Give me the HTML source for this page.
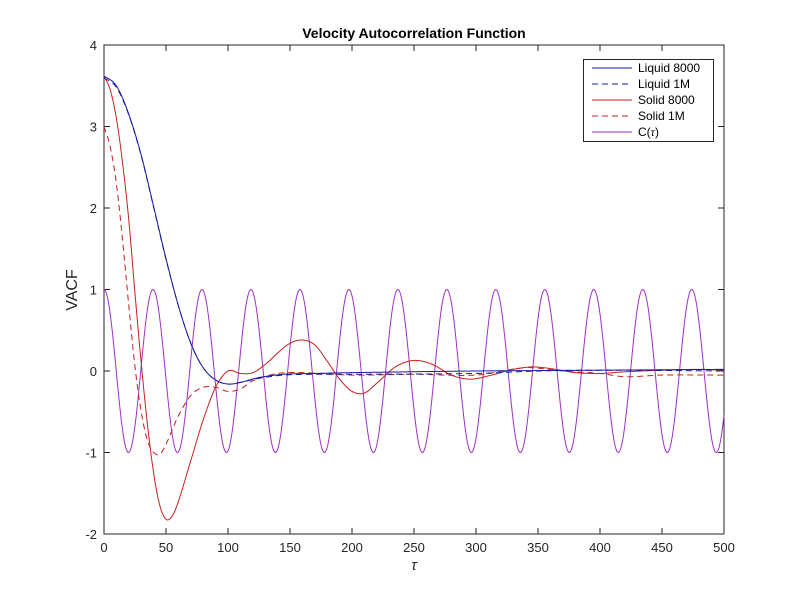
<!DOCTYPE html>
<html><head><meta charset="utf-8"><style>
body{margin:0;background:#fff;width:800px;height:600px;overflow:hidden}
text{font-family:"Liberation Sans",sans-serif}
</style></head><body>
<svg id="s" width="800" height="600" xmlns="http://www.w3.org/2000/svg">
<rect width="800" height="600" fill="#fff"/>
<rect x="104" y="45" width="620" height="489" fill="#fff" stroke="#262626" stroke-width="1"/>
<g id="ticks" stroke="#262626" stroke-width="1"></g>
<g id="lbl" font-size="13" fill="#262626"></g>
<g id="series" fill="none" stroke-width="1"></g>
<text x="414" y="38" text-anchor="middle" font-size="14" font-weight="bold" fill="#000">Velocity Autocorrelation Function</text>
<text x="414" y="570" text-anchor="middle" font-size="15" font-style="italic" font-family="Liberation Serif" fill="#262626">τ</text>
<text transform="translate(77,290) rotate(-90)" text-anchor="middle" font-size="16" fill="#262626">VACF</text>
<g>
<rect x="583.5" y="59.5" width="130" height="82" fill="#fff" stroke="#262626"/>
<line x1="592" y1="68" x2="632" y2="68" stroke="#1a1aa0"/>
<line x1="592" y1="84" x2="632" y2="84" stroke="#1a1aa0" stroke-dasharray="6,4"/>
<line x1="592" y1="100" x2="632" y2="100" stroke="#c82020"/>
<line x1="592" y1="116" x2="632" y2="116" stroke="#c82020" stroke-dasharray="6,4"/>
<line x1="592" y1="132" x2="632" y2="132" stroke="#a030c8"/>
<g font-size="12" fill="#000">
<text x="638" y="72">Liquid 8000</text>
<text x="638" y="88">Liquid 1M</text>
<text x="638" y="104">Solid 8000</text>
<text x="638" y="120">Solid 1M</text>
<text x="638" y="136">C(<tspan font-style="italic" font-family="Liberation Serif">τ</tspan>)</text>
</g></g>
</svg>
<script>
var NS="http://www.w3.org/2000/svg";
function X(t){return 104+t*620/500}
function Y(v){return 371-v*81.5}
var tk=document.getElementById('ticks'),lb=document.getElementById('lbl');
function el(p,tag,a,txt){var e=document.createElementNS(NS,tag);for(var k in a)e.setAttribute(k,a[k]);if(txt!=null)e.textContent=txt;p.appendChild(e);}
for(var t=0;t<=500;t+=50){var x=X(t);el(tk,'line',{x1:x,y1:534,x2:x,y2:528});el(tk,'line',{x1:x,y1:45,x2:x,y2:51});el(lb,'text',{x:x,y:552,'text-anchor':'middle'},t);}
for(var v=-2;v<=4;v++){var y=Y(v);el(tk,'line',{x1:104,y1:y,x2:110,y2:y});el(tk,'line',{x1:724,y1:y,x2:718,y2:y});el(lb,'text',{x:97,y:y+5,'text-anchor':'end'},v);}
function interp(pts){var out=[];for(var i=0;i<pts.length-1;i++){var p0=pts[Math.max(0,i-1)],p1=pts[i],p2=pts[i+1],p3=pts[Math.min(pts.length-1,i+2)];var n=Math.max(2,Math.ceil((p2[0]-p1[0])));for(var j=0;j<n;j++){var s=j/n;var t=p1[0]+(p2[0]-p1[0])*s;
var m1=(p2[1]-p0[1])/(p2[0]-p0[0])*(p2[0]-p1[0]),m2=(p3[1]-p1[1])/(p3[0]-p1[0])*(p2[0]-p1[0]);
var s2=s*s,s3=s2*s;var v=(2*s3-3*s2+1)*p1[1]+(s3-2*s2+s)*m1+(-2*s3+3*s2)*p2[1]+(s3-s2)*m2;out.push([t,v]);}}out.push(pts[pts.length-1]);return out;}
function path(arr,col,dash){var d=arr.map(function(p,i){return (i?'L':'M')+X(p[0]).toFixed(2)+','+Y(p[1]).toFixed(2)}).join('');var a={d:d,stroke:col};if(dash)a['stroke-dasharray']=dash;el(document.getElementById('series'),'path',a);}
var cs=[];for(var t=0;t<=500;t+=0.5)cs.push([t,Math.cos(2*Math.PI*t/39.5)]);
path(cs,'#a030c8');
var liq=[[0,3.62],[10,3.5],[20,3.15],[30,2.65],[40,2.02],[50,1.38],[60,0.8],[70,0.34],[80,0.04],[90,-0.11],[100,-0.16],[110,-0.14],[125,-0.08],[145,-0.04],[170,-0.03],[200,-0.02],[300,0],[400,0.01],[500,0.02]];
var liq2=[[0,3.6],[10,3.48],[20,3.14],[30,2.64],[40,2.01],[50,1.37],[60,0.8],[70,0.34],[80,0.04],[90,-0.11],[100,-0.16],[110,-0.14],[125,-0.09],[145,-0.05],[170,-0.04],[200,-0.04],[300,-0.03],[350,0.0],[400,0.01],[500,0.0]];
var sol=[[0,3.62],[5,3.45],[10,3.1],[15,2.55],[20,1.85],[25,0.95],[30,0.1],[35,-0.65],[40,-1.25],[45,-1.65],[50,-1.82],[55,-1.78],[60,-1.6],[70,-1.1],[80,-0.6],[90,-0.2],[100,0.0],[110,-0.03],[120,-0.02],[130,0.08],[140,0.22],[150,0.34],[160,0.38],[170,0.32],[180,0.12],[190,-0.1],[200,-0.25],[210,-0.27],[220,-0.15],[235,0.05],[250,0.13],[265,0.08],[280,-0.05],[295,-0.1],[310,-0.06],[330,0.02],[345,0.05],[360,0.03],[380,-0.02],[400,-0.03],[420,-0.01],[450,0.01],[480,0.02],[500,0.01]];
var sol2=[[0,3.0],[5,2.75],[10,2.3],[15,1.6],[20,0.8],[25,0.05],[30,-0.5],[35,-0.85],[40,-1.0],[45,-1.02],[50,-0.9],[60,-0.55],[70,-0.3],[80,-0.2],[90,-0.2],[100,-0.25],[110,-0.22],[120,-0.12],[140,-0.03],[160,-0.02],[200,-0.05],[250,-0.04],[300,-0.05],[340,0.04],[370,0.0],[400,-0.03],[420,-0.07],[450,-0.05],[500,-0.05]];
path(interp(sol2),'#c82020','6,4');
path(interp(sol),'#c82020');
path(interp(liq2),'#1a1aa0','6,4');
path(interp(liq),'#1a1aa0');
</script>
</body></html>
